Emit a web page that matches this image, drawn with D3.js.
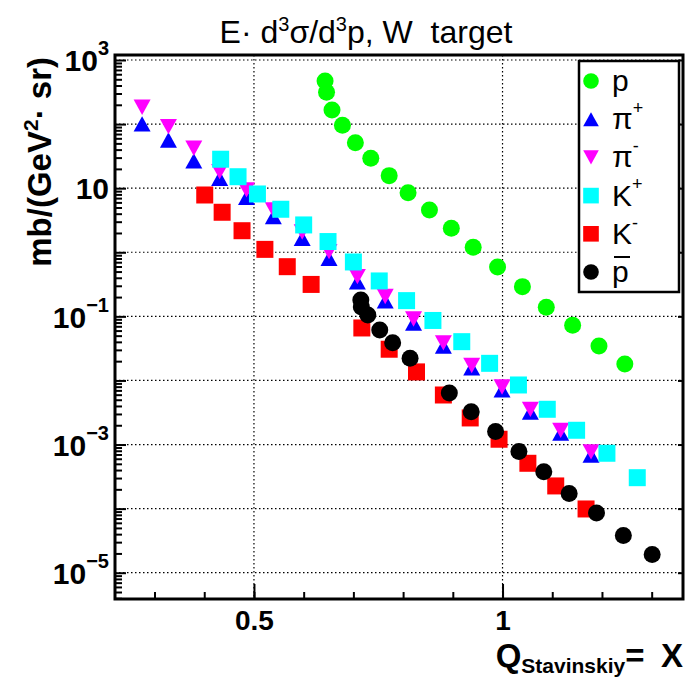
<!DOCTYPE html>
<html>
<head>
<meta charset="utf-8">
<script src="https://cdn.jsdelivr.net/npm/d3@7"></script>
<style>
  body { margin: 0; background: #fff; }
  text { font-family: "Liberation Sans", Arial, sans-serif; }
</style>
</head>
<body>
<div id="chart"></div>
<script>
// values
const protonX = [0.643, 0.646, 0.657, 0.678, 0.704, 0.735, 0.772, 0.810, 0.853, 0.897, 0.941, 0.990, 1.040, 1.088, 1.141, 1.194, 1.246];
const protonY = [471, 314, 166, 95.9, 51.3, 29.3, 15.7, 8.51, 4.57, 2.37, 1.20, 0.590, 0.291, 0.139, 0.0726, 0.0345, 0.0181];

const pionX = [0.275, 0.328, 0.379, 0.431, 0.485, 0.539, 0.597, 0.651, 0.708, 0.764, 0.821, 0.881, 0.938, 0.999, 1.056, 1.117, 1.178];
const piPlusY = [100.5, 56.5, 26.6, 14.3, 7.21, 3.59, 1.65, 0.806, 0.344, 0.174, 0.0788, 0.0345, 0.0157, 0.00711, 0.00322, 0.00151, 0.000687];
const piMinusY = [183, 91.2, 42.0, 18.1, 9.38, 4.57, 2.07, 1.02, 0.416, 0.204, 0.0910, 0.0385, 0.0171, 0.00791, 0.00353, 0.00166, 0.000766];

const kPlusX = [0.433, 0.468, 0.507, 0.554, 0.600, 0.649, 0.700, 0.752, 0.807, 0.860, 0.918, 0.974, 1.032, 1.090, 1.149, 1.210, 1.271];
const kPlusY = [28.3, 15.1, 8.12, 4.69, 2.67, 1.47, 0.706, 0.357, 0.176, 0.0863, 0.0403, 0.0185, 0.00850, 0.00355, 0.00167, 0.000731, 0.000304];

const kMinusX = [0.401, 0.436, 0.476, 0.522, 0.567, 0.615, 0.717, 0.772, 0.827, 0.881, 0.935, 0.993, 1.051, 1.107, 1.168];
const kMinusY = [7.83, 4.21, 2.17, 1.11, 0.596, 0.315, 0.0659, 0.0307, 0.0136, 0.00593, 0.00260, 0.00121, 0.000510, 0.000226, 0.0000988];

const pbarX = [0.715, 0.716, 0.729, 0.753, 0.779, 0.814, 0.893, 0.937, 0.986, 1.033, 1.083, 1.134, 1.189, 1.243, 1.301];
const pbarY = [0.180, 0.140, 0.105, 0.0613, 0.0389, 0.0222, 0.00638, 0.00326, 0.00160, 0.000780, 0.000377, 0.000172, 0.0000855, 0.0000381, 0.0000193];

const xMajorTicks = [0.5, 1];
const xMinorTicks = [0.3, 0.4, 0.5, 0.6, 0.7, 0.8, 0.9, 1.0, 1.1, 1.2, 1.3];
const yDecades = [-5, -4, -3, -2, -1, 0, 1, 2, 3];
const yLabelled = [3, 1, -1, -3, -5];

const width = 686, height = 682;
const plotLeft = 115, plotRight = 683, plotTop = 55, plotBottom = 599;

const svg = d3.select("#chart").append("svg")
  .attr("width", width)
  .attr("height", height);
svg.append("rect").attr("width", width).attr("height", height).attr("fill", "#fff");

const x = d3.scaleLinear().domain([0.2205, 1.363]).range([plotLeft, plotRight]);
const y = d3.scaleLog().domain([3.89e-6, 1197]).range([plotBottom, plotTop]);

// grid
const grid = svg.append("g").attr("stroke", "#000").attr("stroke-width", 1.2).attr("stroke-dasharray", "1.5,2.5");
grid.selectAll("line.h").data(yDecades).enter().append("line")
  .attr("x1", plotLeft).attr("x2", plotRight)
  .attr("y1", d => y(Math.pow(10, d))).attr("y2", d => y(Math.pow(10, d)));
grid.selectAll("line.v").data(xMajorTicks).enter().append("line")
  .attr("y1", plotTop).attr("y2", plotBottom)
  .attr("x1", d => x(d)).attr("x2", d => x(d));

// y ticks
var yMinor = [];
for (var k = -6; k <= 3; k++) {
  for (var m = 2; m <= 9; m++) {
    var v = m * Math.pow(10, k);
    if (v > y.domain()[0] && v < y.domain()[1]) yMinor.push(v);
  }
}
const yDecadeVals = yDecades.map(d => Math.pow(10, d));

function styleAxis(g) {
  g.select(".domain").remove();
  g.selectAll(".tick line").attr("stroke", "#000").attr("stroke-width", 2);
}

svg.append("g").attr("transform", "translate(" + plotLeft + ",0)")
  .call(d3.axisLeft(y).tickValues(yMinor).tickSize(-7).tickFormat(""))
  .call(styleAxis);

const yAxis = svg.append("g").attr("transform", "translate(" + plotLeft + ",0)")
  .call(d3.axisLeft(y).tickValues(yDecadeVals).tickSize(-11).tickPadding(6).tickFormat(""))
  .call(styleAxis);

svg.append("g").attr("transform", "translate(" + plotRight + ",0)")
  .call(d3.axisRight(y).tickValues(yDecadeVals).tickSize(-5).tickFormat(""))
  .call(styleAxis);

yAxis.selectAll(".tick").each(function (d) {
  var e = Math.round(Math.log10(d));
  if (yLabelled.indexOf(e) < 0) return;
  var t = d3.select(this).select("text")
    .attr("fill", "#000")
    .attr("font-size", 30)
    .attr("font-weight", "bold")
    .attr("font-family", "Liberation Sans, Arial, sans-serif")
    .attr("dy", "0.36em");
  t.append("tspan").text("10");
  if (e !== 1) {
    t.append("tspan").attr("font-size", 20).attr("dy", "-0.8em")
      .text(e < 0 ? "\u2212" + (-e) : String(e));
  }
});

// x ticks
svg.append("g").attr("transform", "translate(0," + plotBottom + ")")
  .call(d3.axisBottom(x).tickValues(xMinorTicks).tickSize(-7).tickFormat(""))
  .call(styleAxis);
svg.append("g").attr("transform", "translate(0," + plotBottom + ")")
  .call(d3.axisBottom(x).tickValues(xMajorTicks).tickSize(-15).tickPadding(11)
    .tickFormat(d => d === 1 ? "1" : String(d)))
  .call(styleAxis)
  .selectAll("text")
  .attr("fill", "#000")
  .attr("font-size", 28)
  .attr("font-weight", "bold")
  .attr("font-family", "Liberation Sans, Arial, sans-serif");

// markers
function triUp(s) { return "M" + (-s) + "," + (s * 0.9) + "L" + s + "," + (s * 0.9) + "L0," + (-s * 0.9) + "Z"; }
function triDown(s) { return "M" + (-s) + "," + (-s * 0.9) + "L" + s + "," + (-s * 0.9) + "L0," + (s * 0.9) + "Z"; }
function square(s) { return "M" + (-s) + "," + (-s) + "H" + s + "V" + s + "H" + (-s) + "Z"; }
function circle(s) { return "M" + (-s) + ",0A" + s + "," + s + " 0 1,0 " + s + ",0A" + s + "," + s + " 0 1,0 " + (-s) + ",0Z"; }

const series = [
  { xs: protonX, ys: protonY, color: "#00ff00", shape: circle, size: 8.5, label: "p", sup: "" },
  { xs: pionX, ys: piPlusY, color: "#0000ff", shape: triUp, size: 8.5, label: "\u03c0", sup: "+" },
  { xs: pionX, ys: piMinusY, color: "#ff00ff", shape: triDown, size: 8.5, label: "\u03c0", sup: "-" },
  { xs: kPlusX, ys: kPlusY, color: "#00ffff", shape: square, size: 8.5, label: "K", sup: "+" },
  { xs: kMinusX, ys: kMinusY, color: "#ff0000", shape: square, size: 8.5, label: "K", sup: "-" },
  { xs: pbarX, ys: pbarY, color: "#000000", shape: circle, size: 8.5, label: "p", sup: "", bar: true }
];

series.forEach(function (s) {
  var pts = s.xs.map((v, i) => [v, s.ys[i]]);
  svg.append("g").selectAll("path").data(pts).enter().append("path")
    .attr("transform", d => "translate(" + x(d[0]) + "," + y(d[1]) + ")")
    .attr("d", s.shape(s.size))
    .attr("fill", s.color);
});

// frame
svg.append("rect")
  .attr("x", plotLeft).attr("y", plotTop)
  .attr("width", plotRight - plotLeft).attr("height", plotBottom - plotTop)
  .attr("fill", "none").attr("stroke", "#000").attr("stroke-width", 3);

// legend
const legend = svg.append("g");
legend.append("rect")
  .attr("x", 579).attr("y", 61).attr("width", 100).attr("height", 231)
  .attr("fill", "#fff").attr("stroke", "#000").attr("stroke-width", 2.5);
series.forEach(function (s, i) {
  var cy = 81 + i * 38.2;
  legend.append("path")
    .attr("transform", "translate(591," + cy + ")")
    .attr("d", s.shape(s.size * 0.92))
    .attr("fill", s.color);
  var t = legend.append("text")
    .attr("x", 612).attr("y", cy + 10)
    .attr("font-size", 30).attr("fill", "#000");
  t.append("tspan").text(s.label);
  if (s.sup) t.append("tspan").attr("font-size", 18).attr("dy", "-0.85em").text(s.sup);
  if (s.bar) {
    legend.append("line").attr("x1", 614).attr("x2", 630)
      .attr("y1", cy - 15).attr("y2", cy - 15)
      .attr("stroke", "#000").attr("stroke-width", 2);
  }
});

// title
const title = svg.append("text")
  .attr("x", 366).attr("y", 43).attr("text-anchor", "middle")
  .attr("font-size", 32).attr("fill", "#000");
title.append("tspan").text("E\u00b7 d");
title.append("tspan").attr("font-size", 20).attr("dy", "-0.6em").text("3");
title.append("tspan").attr("dy", "0.38em").text("\u03c3/d");
title.append("tspan").attr("font-size", 20).attr("dy", "-0.6em").text("3");
title.append("tspan").attr("dy", "0.38em").text("p, W\u00a0 target");

// y axis title
const yTitle = svg.append("text")
  .attr("transform", "translate(51," + (plotTop + 2) + ") rotate(-90)")
  .attr("text-anchor", "end")
  .attr("font-size", 33).attr("font-weight", "bold").attr("fill", "#000");
yTitle.append("tspan").text("mb/(GeV");
yTitle.append("tspan").attr("font-size", 21).attr("dy", "-0.6em").text("2");
yTitle.append("tspan").attr("dy", "0.38em").text("\u00b7 sr)");

// x axis title
const xTitle = svg.append("text")
  .attr("x", plotRight).attr("y", 667).attr("text-anchor", "end")
  .attr("font-size", 33).attr("font-weight", "bold").attr("fill", "#000");
xTitle.append("tspan").text("Q");
xTitle.append("tspan").attr("font-size", 21).attr("dy", "0.3em").text("Stavinskiy");
xTitle.append("tspan").attr("dy", "-0.18em").text("=\u2002X");
</script>
</body>
</html>
